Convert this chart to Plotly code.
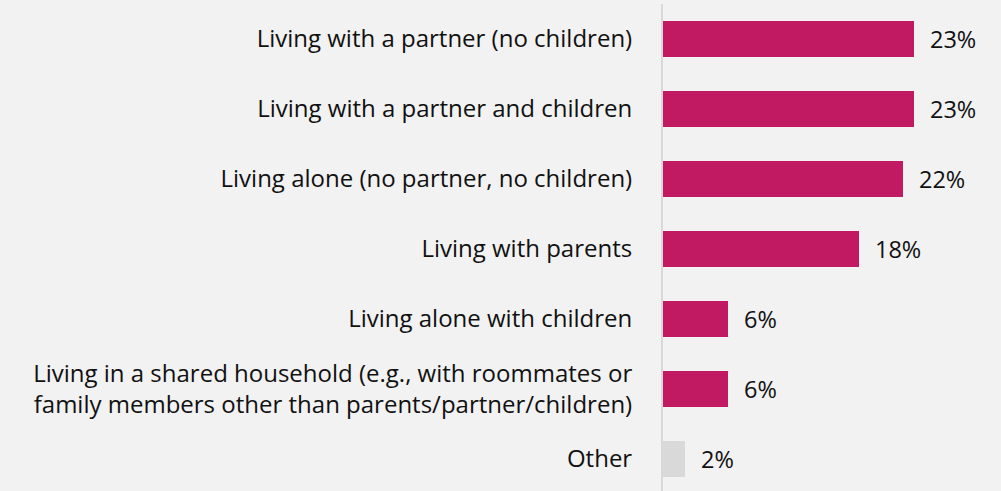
import plotly.graph_objects as go

categories = [
    "Living with a partner (no children)",
    "Living with a partner and children",
    "Living alone (no partner, no children)",
    "Living with parents",
    "Living alone with children",
    "Living in a shared household (e.g., with roommates or<br>family members other than parents/partner/children)",
    "Other",
]
values = [23, 23, 22, 18, 6, 6, 2]
labels = ["23%", "23%", "22%", "18%", "6%", "6%", "2%"]
colors = ["#C21A62"] * 6 + ["#D9D9D9"]

FONT = "Open Sans"
fig = go.Figure()
fig.add_trace(go.Bar(
    x=values, y=categories, orientation="h",
    marker=dict(color=colors, line=dict(width=0)),
    width=0.514, hoverinfo="skip",
))
for c, v, t in zip(categories, values, labels):
    fig.add_annotation(x=v, y=c, text=t, showarrow=False, xanchor="left",
                       xshift=14, font=dict(family=FONT, size=23.5, color="#111111"))

fig.update_layout(
    width=1001, height=491,
    margin=dict(l=663, r=0, t=4, b=0),
    paper_bgcolor="#F2F2F2", plot_bgcolor="#F2F2F2",
    showlegend=False,
    bargap=0,
)
fig.update_xaxes(range=[0, 31.0], visible=False, showgrid=False, zeroline=False, fixedrange=True)
fig.update_yaxes(
    categoryorder="array", categoryarray=categories,
    range=[6.457, -0.5], showgrid=False, zeroline=False,
    showline=True, linecolor="#D9D9D9", linewidth=2,
    ticks="", ticklabelstandoff=24,
    tickfont=dict(family=FONT, size=24, color="#111111"),
)
fig.write_html("out.html", config={"displayModeBar": False},
               post_script="document.body.style.margin='0';document.body.style.overflow='hidden';")
